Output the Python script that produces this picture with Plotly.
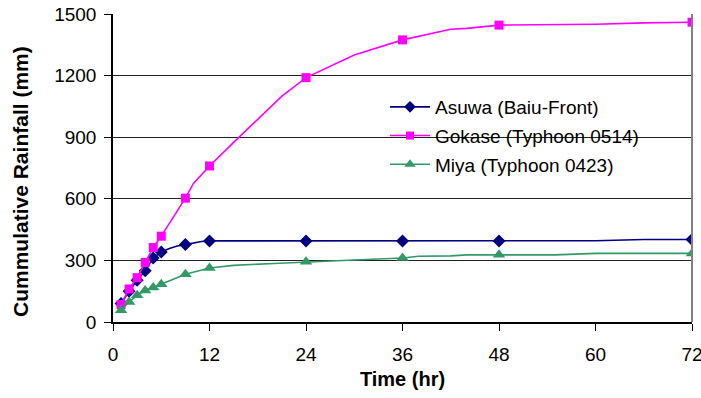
import plotly.graph_objects as go

# ---- data ----
marker_hours = [1, 2, 3, 4, 5, 6, 9, 12, 24, 36, 48, 72]
asuwa_markers = [90, 150, 203, 249, 312, 341, 377, 395, 395, 395, 395, 402]
gokase_markers = [85, 161, 216, 290, 363, 418, 603, 760, 1190, 1374, 1446, 1460]
miya_markers = [57, 98, 130, 153, 168, 184, 233, 263, 293, 312, 327, 334]

asuwa_hours = [1, 2, 3, 4, 5, 6, 7, 8, 9, 10, 11, 12, 24, 36, 48, 60, 66, 72]
asuwa_line = [90, 150, 203, 249, 312, 341, 358, 370, 377, 386, 392, 395, 395, 395, 395, 396, 402, 402]

gokase_hours = [1, 2, 3, 4, 5, 6, 9, 10, 12, 15, 18, 21, 24, 30, 36, 42, 44, 48, 60, 66, 72]
gokase_line = [85, 161, 216, 290, 363, 418, 603, 675, 760, 875, 990, 1100, 1190, 1300, 1374, 1426, 1430, 1446, 1450, 1457, 1460]

miya_hours = [1, 2, 3, 4, 5, 6, 9, 12, 15, 20, 24, 30, 36, 38, 42, 44, 48, 55, 60, 72]
miya_line = [57, 98, 130, 153, 168, 184, 233, 263, 276, 285, 293, 302, 312, 320, 322, 327, 327, 327, 334, 334]

names = ["Asuwa (Baiu-Front)", "Gokase (Typhoon 0514)", "Miya (Typhoon 0423)"]
colors = ["#000080", "#FF00FF", "#339966"]
symbols = ["diamond", "square", "triangle-up"]
sizes = [10, 9, 11]

x_ticks = [0, 12, 24, 36, 48, 60, 72]
y_ticks = [0, 300, 600, 900, 1200, 1500]

FONT = "Liberation Sans, Arial, sans-serif"

fig = go.Figure()
series = [
    (asuwa_hours, asuwa_line, asuwa_markers),
    (gokase_hours, gokase_line, gokase_markers),
    (miya_hours, miya_line, miya_markers),
]
for i, (hx, hy, my) in enumerate(series):
    fig.add_trace(go.Scatter(x=hx, y=hy, mode="lines",
                             line=dict(color=colors[i], width=1.6),
                             showlegend=False, hoverinfo="skip"))
    fig.add_trace(go.Scatter(x=marker_hours, y=my, mode="markers",
                             marker=dict(color=colors[i], symbol=symbols[i], size=sizes[i]),
                             showlegend=False))
for i in range(3):
    fig.add_trace(go.Scatter(x=[None], y=[None], mode="lines+markers", name=names[i],
                             legendgroup=f"g{i}",
                             line=dict(color=colors[i], width=1.6),
                             marker=dict(color=colors[i], symbol=symbols[i], size=sizes[i] - 1)))

W, H = 701, 398
L, R, T, B = 113, 9, 14, 76
pw, ph = W - L - R, H - T - B


def px_x(p):
    return (p - L) / pw


def px_y(p):
    return (H - B - p) / ph


# white panel behind legend that hides the gridline, as in the original
fig.add_shape(type="rect", xref="paper", yref="paper", layer="between",
              x0=px_x(353), x1=px_x(675), y0=px_y(182), y1=px_y(86),
              line=dict(width=0), fillcolor="white")
fig.add_shape(type="line", xref="paper", yref="paper", x0=1, x1=1, y0=0, y1=1,
              line=dict(color="#808080", width=2))

fig.add_annotation(text="<b>Cummulative Rainfall (mm)</b>", xref="paper", yref="paper",
                   x=px_x(20), y=px_y(182), textangle=-90, showarrow=False,
                   xanchor="center", yanchor="middle",
                   font=dict(family=FONT, size=21, color="black"))

fig.update_layout(
    width=W, height=H,
    margin=dict(l=L, r=R, t=T, b=B, autoexpand=False),
    paper_bgcolor="white", plot_bgcolor="white",
    font=dict(family=FONT, size=19, color="black"),
    showlegend=True,
    legend=dict(x=px_x(385), y=px_y(88), xanchor="left", yanchor="top",
                bgcolor="rgba(0,0,0,0)", borderwidth=0,
                font=dict(family=FONT, size=19, color="black"),
                tracegroupgap=1, itemwidth=40),
    xaxis=dict(range=[0, 72], tickvals=x_ticks, ticktext=[str(v) for v in x_ticks],
               showgrid=False, zeroline=False, showline=True, linecolor="black", linewidth=1.5,
               ticks="outside", ticklen=7, tickcolor="black", tickwidth=1,
               ticklabelstandoff=7, ticklabeloverflow="allow", automargin=False,
               title=dict(text="<b>Time (hr)</b>", font=dict(family=FONT, size=20), standoff=8)),
    yaxis=dict(range=[0, 1500], tickvals=y_ticks, ticktext=[str(v) for v in y_ticks],
               showgrid=True, gridcolor="#222222", gridwidth=1,
               zeroline=False, showline=True, linecolor="black", linewidth=1.5,
               ticks="outside", ticklen=7, tickcolor="black", tickwidth=1,
               ticklabelstandoff=4, ticklabeloverflow="allow", automargin=False),
)

fig.write_html("out.html")
